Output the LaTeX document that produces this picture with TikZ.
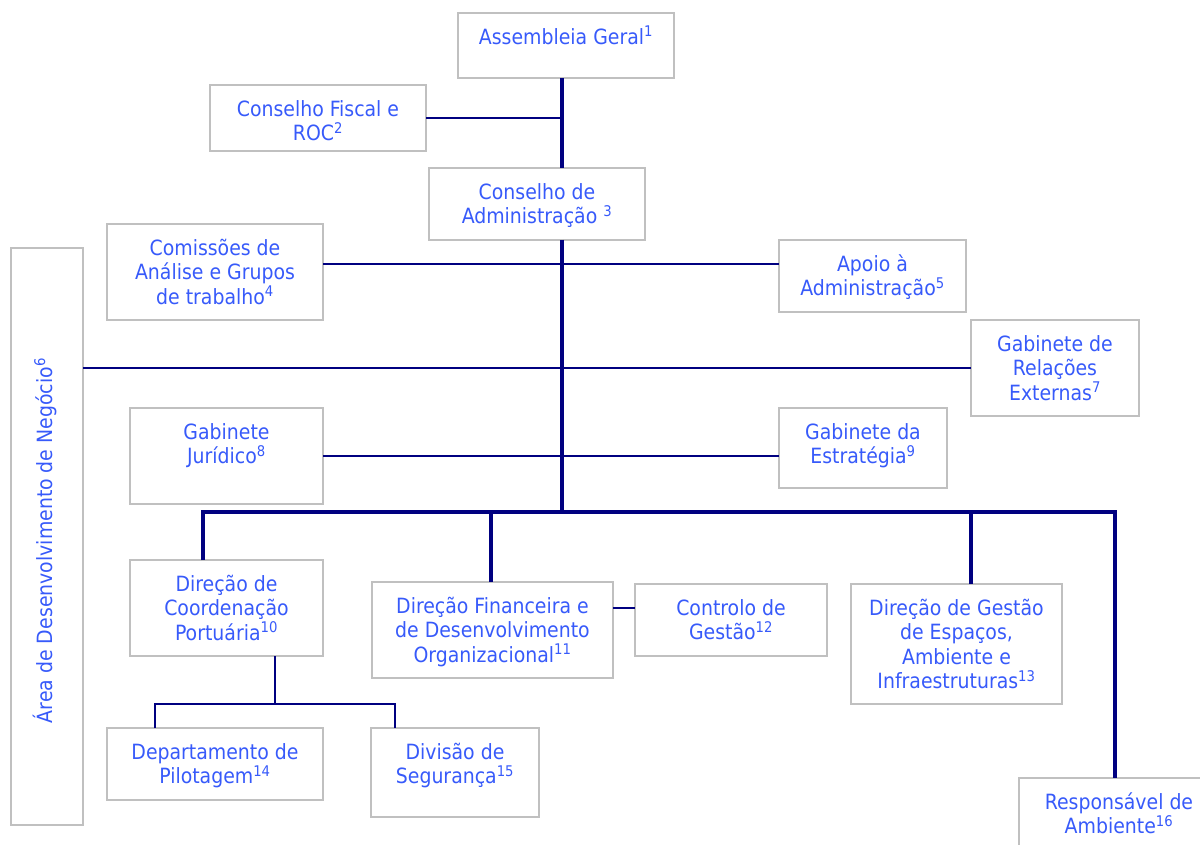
\documentclass[tikz,border=0pt]{standalone}
\usepackage{fontspec}
\setmainfont{DejaVu Sans Condensed}
\definecolor{txtblue}{RGB}{55,90,250}
\definecolor{boxgray}{RGB}{192,192,192}
\definecolor{navyline}{RGB}{0,0,128}
\tikzset{
  box/.style={draw=boxgray, line width=2.2pt, anchor=north west, inner sep=0pt, outer sep=0pt},
  lbl/.style={anchor=north, inner sep=0pt, align=center, text=txtblue, font=\fontsize{21}{24.5}\selectfont},
  trunk/.style={draw=navyline, line width=3.6pt},
  conn/.style={draw=navyline, line width=2.8pt},
}
\newcommand\obox[6]{%
  \node[box, minimum width=#4pt, minimum height=#5pt] (#1) at (#2,#3) {};
  \node[lbl] (#1t) at (#1.north) {\rule{0pt}{31pt}#6};}
\begin{document}
\begin{tikzpicture}[x=1pt,y=-1pt]
\useasboundingbox (0,0) rectangle (1200,845);
\clip (0,0) rectangle (1200,845);
\obox{ag}{458}{13}{216}{65}{Assembleia Geral\textsuperscript{1}}
\obox{roc}{210}{85}{216}{66}{Conselho Fiscal e\\ROC\textsuperscript{2}}
\obox{ca}{429}{168}{216}{72}{Conselho de\\Administração \textsuperscript{3}}
\obox{com}{107}{224}{216}{96}{Comissões de\\Análise e Grupos\\de trabalho\textsuperscript{4}}
\obox{apo}{779}{240}{187}{72}{Apoio à\\Administração\textsuperscript{5}}
\node[box, minimum width=72pt, minimum height=577pt] (area) at (11,248) {};
\node[rotate=90, text=txtblue, font=\fontsize{21}{24.5}\selectfont, inner sep=0pt] (areat) at ([xshift=-2pt,yshift=-4pt]area.center) {Área de Desenvolvimento de Negócio\textsuperscript{6}};
\obox{gre}{971}{320}{168}{96}{Gabinete de\\Relações\\Externas\textsuperscript{7}}
\obox{jur}{130}{408}{193}{96}{Gabinete\\Jurídico\textsuperscript{8}}
\obox{est}{779}{408}{168}{80}{Gabinete da\\Estratégia\textsuperscript{9}}
\obox{dcp}{130}{560}{193}{96}{Direção de\\Coordenação\\Portuária\textsuperscript{10}}
\obox{dfin}{372}{582}{241}{96}{Direção Financeira e\\de Desenvolvimento\\Organizacional\textsuperscript{11}}
\obox{cg}{635}{584}{192}{72}{Controlo de\\Gestão\textsuperscript{12}}
\obox{dge}{851}{584}{211}{120}{Direção de Gestão\\de Espaços,\\Ambiente e\\Infraestruturas\textsuperscript{13}}
\obox{pil}{107}{728}{216}{72}{Departamento de\\Pilotagem\textsuperscript{14}}
\obox{seg}{371}{728}{168}{89}{Divisão de\\Segurança\textsuperscript{15}}
\obox{amb}{1019}{778}{200}{90}{Responsável de\\Ambiente\textsuperscript{16}}
% helper coordinates
\coordinate (tx) at (562,0);
\coordinate (bus) at (562,512);
\coordinate (h1) at (0,264);
\coordinate (d1) at (203,512);
\coordinate (d2) at (491,512);
\coordinate (d3) at (971,512);
\coordinate (d4) at (1115,512);
\coordinate (s0) at (275,704);
\coordinate (s1) at (155,704);
\coordinate (s2) at (395,704);
\coordinate (cgy) at (0,608);
% connectors
\draw[trunk] (ag.south -| tx) -- (ca.north -| tx);
\draw[conn] (roc.east) -- (roc.east -| tx);
\draw[trunk] (ca.south -| tx) -- (bus);
\draw[conn] (com.east |- h1) -- (apo.west |- h1);
\draw[conn] (area.east |- gre.west) -- (gre.west);
\draw[conn] (jur.east) -- (est.west |- jur.east);
\draw[trunk] (dcp.north -| d1) -- (d1) -- (d4) -- (amb.north -| d4);
\draw[trunk] (d2) -- (dfin.north -| d2);
\draw[trunk] (d3) -- (dge.north -| d3);
\draw[conn] (dfin.east |- cgy) -- (cg.west |- cgy);
\draw[conn] (dcp.south -| s0) -- (s0);
\draw[conn] (pil.north -| s1) -- (s1) -- (s2) -- (seg.north -| s2);
\end{tikzpicture}
\end{document}
